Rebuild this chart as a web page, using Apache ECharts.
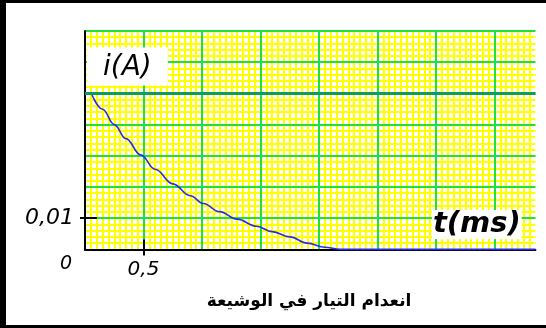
<!DOCTYPE html>
<html>
<head>
<meta charset="utf-8">
<script src="https://cdn.jsdelivr.net/npm/echarts@6/dist/echarts.min.js"></script>
<style>
  html, body { margin: 0; padding: 0; background: #fff; }
  #chart { width: 546px; height: 328px; }
</style>
</head>
<body>
<div id="chart"></div>
<script>
// Current in the coil after the switch is opened (time in ms, current in A)
const timeMs = [0.06, 0.15, 0.25, 0.35, 0.476, 0.6, 0.75, 0.9, 1.011, 1.15, 1.3, 1.467,
                1.6, 1.75, 1.9, 2.05, 2.18, 3.85];
const currentA = [0.0495, 0.0449, 0.04, 0.0355, 0.0303, 0.0257, 0.021, 0.0172, 0.0147, 0.0121, 0.0097, 0.0074,
                  0.0057, 0.004, 0.002, 0.0007, 0, 0];
const initialCurrent = 0.05;

const xTickValues = [0.5];
const xTickLabels = ['0,5'];
const yTickValues = [0, 0.01];
const yTickLabels = ['0', '0,01'];

const X_MAX = 3.85;
const Y_MAX = 0.07;

const labelFont = { color: '#000', fontFamily: 'DejaVu Sans', fontStyle: 'italic' };
const noParts = { axisLine: { show: false }, axisTick: { show: false }, axisLabel: { show: false } };
const minorLine = { show: true, lineStyle: { color: '#ffff00', width: 2 } };
const majorLine = { show: true, lineStyle: { color: '#22e03a', width: 2 } };

const chart = echarts.init(document.getElementById('chart'));
chart.setOption({
  animation: false,
  backgroundColor: '#fff',
  title: {
    text: 'انعدام التيار في الوشيعة',
    left: 304, top: 288, textAlign: 'center',
    textStyle: { fontFamily: 'DejaVu Sans', fontWeight: 'bold', fontSize: 17, color: '#000' }
  },
  graphic: [
    { type: 'rect', left: 0, top: 0, shape: { width: 6, height: 328 }, style: { fill: '#000' } },
    { type: 'rect', left: 0, top: 0, shape: { width: 546, height: 3 }, style: { fill: '#000' } },
    { type: 'rect', left: 0, top: 325, shape: { width: 546, height: 3 }, style: { fill: '#000' } }
  ],
  grid: { left: 85, top: 31, right: 10.55, bottom: 78.6, containLabel: false },
  xAxis: [
    {
      type: 'value', position: 'bottom', min: 0, max: X_MAX, z: 2,
      axisLine: { show: true, onZero: false, lineStyle: { color: '#000', width: 2 } },
      axisTick: { show: false },
      splitLine: { show: false },
      axisLabel: {
        show: true, customValues: xTickValues, margin: 10, fontSize: 20, ...labelFont,
        formatter: v => xTickLabels[xTickValues.indexOf(v)]
      },
      name: '{b|t(ms)}', nameLocation: 'end', nameGap: -103.5,
      nameTextStyle: {
        align: 'left', verticalAlign: 'bottom', padding: [0, 0, 8, 0],
        rich: { b: { backgroundColor: '#fff', fontSize: 29, lineHeight: 34, fontWeight: 'bold',
                     fontStyle: 'italic', fontFamily: 'DejaVu Sans', color: '#000', padding: [0, 1, 0, 1] } }
      }
    },
    { type: 'value', position: 'bottom', min: 0, max: X_MAX, interval: 0.05, z: 0, ...noParts,
      axisLine: { show: false, onZero: false }, splitLine: { ...minorLine, showMaxLine: false } },
    { type: 'value', position: 'bottom', min: 0, max: X_MAX, interval: 0.5, z: 1, ...noParts,
      axisLine: { show: false, onZero: false }, splitLine: { ...majorLine, showMaxLine: false } },
    { type: 'value', position: 'bottom', min: 0, max: X_MAX, offset: -10, z: 4,
      axisLine: { show: false, onZero: false }, axisLabel: { show: false }, splitLine: { show: false },
      axisTick: { show: true, customValues: xTickValues, length: 16, lineStyle: { color: '#000', width: 2 } } }
  ],
  yAxis: [
    {
      type: 'value', position: 'left', min: 0, max: Y_MAX, z: 2,
      axisLine: { show: true, onZero: false, lineStyle: { color: '#000', width: 2 } },
      axisTick: { show: false },
      splitLine: { show: false },
      axisLabel: {
        show: true, customValues: yTickValues, margin: 11, fontSize: 22, ...labelFont,
        formatter: v => {
          const s = yTickLabels[yTickValues.indexOf(v)];
          return v === 0 ? '{z|' + s + '}' : s;
        },
        rich: { z: { fontSize: 19, padding: [30, 2, 0, 0], ...labelFont } }
      },
      name: '{b|i(A)}', nameLocation: 'end', nameGap: -52,
      nameTextStyle: {
        align: 'left', verticalAlign: 'bottom', padding: [0, 0, 0, 2],
        rich: { b: { backgroundColor: '#fff', fontSize: 28, lineHeight: 33, fontStyle: 'italic',
                     fontFamily: 'DejaVu Sans', color: '#000', padding: [6, 16, 4, 16] } }
      }
    },
    { type: 'value', position: 'left', min: 0, max: Y_MAX, interval: 0.002, z: 0, ...noParts,
      axisLine: { show: false, onZero: false }, splitLine: { ...minorLine } },
    { type: 'value', position: 'left', min: 0, max: Y_MAX, interval: 0.01, z: 1, ...noParts,
      axisLine: { show: false, onZero: false }, splitLine: { ...majorLine } },
    { type: 'value', position: 'left', min: 0, max: Y_MAX, offset: -12, z: 4,
      axisLine: { show: false, onZero: false }, axisLabel: { show: false }, splitLine: { show: false },
      axisTick: { show: true, customValues: [yTickValues[1]], length: 17, lineStyle: { color: '#000', width: 2 } } }
  ],
  series: [{
    type: 'line',
    xAxisIndex: 0, yAxisIndex: 0, z: 3,
    data: timeMs.map((t, k) => [t, currentA[k]]),
    showSymbol: false, symbol: 'none', smooth: 0.4, smoothMonotone: 'x', clip: false,
    lineStyle: { color: '#2a2ae8', width: 1.6 },
    markLine: {
      silent: true, symbol: 'none', label: { show: false },
      lineStyle: { color: '#0c9a68', width: 3, type: 'solid' },
      data: [{ yAxis: initialCurrent }]
    }
  }]
});
</script>
</body>
</html>
